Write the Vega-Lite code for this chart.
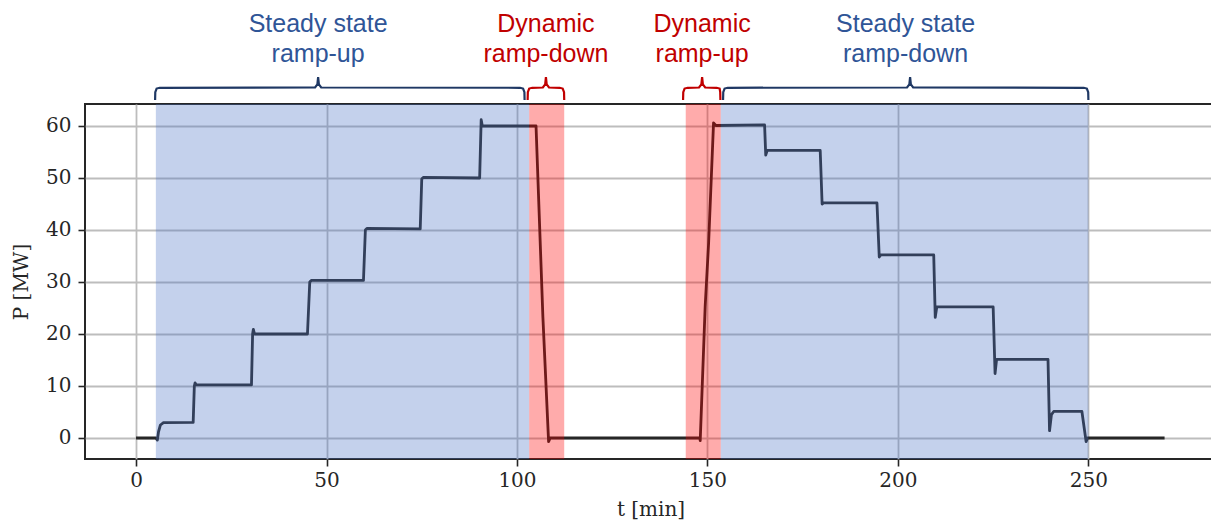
{
  "$schema": "https://vega.github.io/schema/vega-lite/v6.json",
  "autosize": "none",
  "width": 1131,
  "height": 355,
  "padding": {"left": 85, "top": 104, "right": 0, "bottom": 66},
  "background": "white",
  "config": {
    "view": {"stroke": "#262626", "strokeWidth": 2},
    "axis": {
      "labelFont": "DejaVu Serif", "labelFontSize": 20, "labelColor": "#262626",
      "titleFont": "DejaVu Serif", "titleFontSize": 20, "titleFontWeight": "normal", "titleColor": "#262626",
      "tickColor": "#262626", "tickWidth": 1.6, "tickSize": 7,
      "domain": false, "grid": true, "gridColor": "#bdbdbd", "gridWidth": 1.8
    }
  },
  "datasets": {
    "power": [
      {"t": 0, "P": 0}, {"t": 5.2, "P": 0}, {"t": 5.6, "P": -0.4}, {"t": 5.9, "P": 1.2}, {"t": 6.4, "P": 2.5}, {"t": 7.2, "P": 2.95},
      {"t": 15.0, "P": 3.0}, {"t": 15.3, "P": 10.0}, {"t": 15.5, "P": 10.6}, {"t": 15.8, "P": 10.2},
      {"t": 30.3, "P": 10.2}, {"t": 30.6, "P": 20.0}, {"t": 30.8, "P": 20.9}, {"t": 31.1, "P": 20.0},
      {"t": 45.0, "P": 20.0}, {"t": 45.3, "P": 25.0}, {"t": 45.6, "P": 30.0}, {"t": 46.0, "P": 30.3},
      {"t": 59.7, "P": 30.3}, {"t": 60.2, "P": 40.0}, {"t": 60.6, "P": 40.3},
      {"t": 74.6, "P": 40.2}, {"t": 75.0, "P": 49.8}, {"t": 75.4, "P": 50.1},
      {"t": 90.2, "P": 50.0}, {"t": 90.6, "P": 61.2}, {"t": 90.9, "P": 60.0},
      {"t": 105.0, "P": 60.0}, {"t": 106.8, "P": 23.3}, {"t": 108.3, "P": -0.7}, {"t": 108.7, "P": 0},
      {"t": 148.0, "P": 0}, {"t": 148.1, "P": -0.5}, {"t": 149.4, "P": 25.3}, {"t": 150.3, "P": 37.4}, {"t": 151.6, "P": 60.6}, {"t": 152.2, "P": 60.1},
      {"t": 165.0, "P": 60.2}, {"t": 165.3, "P": 54.4}, {"t": 165.7, "P": 55.3},
      {"t": 179.6, "P": 55.3}, {"t": 180.1, "P": 45.0}, {"t": 180.5, "P": 45.2},
      {"t": 194.5, "P": 45.2}, {"t": 195.1, "P": 34.8}, {"t": 195.5, "P": 35.2},
      {"t": 209.4, "P": 35.2}, {"t": 209.8, "P": 23.2}, {"t": 210.2, "P": 25.2},
      {"t": 225.0, "P": 25.2}, {"t": 225.5, "P": 12.4}, {"t": 225.9, "P": 15.1},
      {"t": 239.4, "P": 15.1}, {"t": 239.8, "P": 1.4}, {"t": 240.3, "P": 4.5}, {"t": 240.9, "P": 5.1},
      {"t": 248.3, "P": 5.1}, {"t": 249.4, "P": -0.7}, {"t": 249.8, "P": 0}, {"t": 270, "P": 0}
    ],
    "spans": [
      {"t0": 5.2, "t1": 103.2, "kind": "steady"},
      {"t0": 103.2, "t1": 112.4, "kind": "dynamic"},
      {"t0": 144.3, "t1": 153.5, "kind": "dynamic"},
      {"t0": 153.5, "t1": 250.0, "kind": "steady"}
    ],
    "labels": [
      {"t": 47.8, "P": 78.1, "label": "Steady state", "kind": "steady"},
      {"t": 47.8, "P": 72.3, "label": "ramp-up", "kind": "steady"},
      {"t": 107.6, "P": 78.1, "label": "Dynamic", "kind": "dynamic"},
      {"t": 107.6, "P": 72.3, "label": "ramp-down", "kind": "dynamic"},
      {"t": 148.6, "P": 78.1, "label": "Dynamic", "kind": "dynamic"},
      {"t": 148.6, "P": 72.3, "label": "ramp-up", "kind": "dynamic"},
      {"t": 202.0, "P": 78.1, "label": "Steady state", "kind": "steady"},
      {"t": 202.0, "P": 72.3, "label": "ramp-down", "kind": "steady"}
    ],
    "braces": [
      {"id": "b1", "kind": "steady", "t": 5.0, "P": 65.0}, {"id": "b1", "kind": "steady", "t": 5.05, "P": 66.5}, {"id": "b1", "kind": "steady", "t": 5.4, "P": 67.2}, {"id": "b1", "kind": "steady", "t": 6.2, "P": 67.35},
      {"id": "b1", "kind": "steady", "t": 47.0, "P": 67.4}, {"id": "b1", "kind": "steady", "t": 47.6, "P": 68.0}, {"id": "b1", "kind": "steady", "t": 47.8, "P": 69.4}, {"id": "b1", "kind": "steady", "t": 48.0, "P": 68.0}, {"id": "b1", "kind": "steady", "t": 48.6, "P": 67.4},
      {"id": "b1", "kind": "steady", "t": 100.8, "P": 67.35}, {"id": "b1", "kind": "steady", "t": 101.6, "P": 67.2}, {"id": "b1", "kind": "steady", "t": 101.95, "P": 66.5}, {"id": "b1", "kind": "steady", "t": 102.0, "P": 65.0},
      {"id": "b2", "kind": "dynamic", "t": 102.8, "P": 65.0}, {"id": "b2", "kind": "dynamic", "t": 102.85, "P": 66.5}, {"id": "b2", "kind": "dynamic", "t": 103.2, "P": 67.2}, {"id": "b2", "kind": "dynamic", "t": 104.0, "P": 67.35},
      {"id": "b2", "kind": "dynamic", "t": 106.8, "P": 67.4}, {"id": "b2", "kind": "dynamic", "t": 107.4, "P": 68.0}, {"id": "b2", "kind": "dynamic", "t": 107.6, "P": 69.4}, {"id": "b2", "kind": "dynamic", "t": 107.8, "P": 68.0}, {"id": "b2", "kind": "dynamic", "t": 108.4, "P": 67.4},
      {"id": "b2", "kind": "dynamic", "t": 111.2, "P": 67.35}, {"id": "b2", "kind": "dynamic", "t": 112.0, "P": 67.2}, {"id": "b2", "kind": "dynamic", "t": 112.35, "P": 66.5}, {"id": "b2", "kind": "dynamic", "t": 112.4, "P": 65.0},
      {"id": "b3", "kind": "dynamic", "t": 143.6, "P": 65.0}, {"id": "b3", "kind": "dynamic", "t": 143.65, "P": 66.5}, {"id": "b3", "kind": "dynamic", "t": 144.0, "P": 67.2}, {"id": "b3", "kind": "dynamic", "t": 144.8, "P": 67.35},
      {"id": "b3", "kind": "dynamic", "t": 147.8, "P": 67.4}, {"id": "b3", "kind": "dynamic", "t": 148.4, "P": 68.0}, {"id": "b3", "kind": "dynamic", "t": 148.6, "P": 69.4}, {"id": "b3", "kind": "dynamic", "t": 148.8, "P": 68.0}, {"id": "b3", "kind": "dynamic", "t": 149.4, "P": 67.4},
      {"id": "b3", "kind": "dynamic", "t": 152.4, "P": 67.35}, {"id": "b3", "kind": "dynamic", "t": 153.2, "P": 67.2}, {"id": "b3", "kind": "dynamic", "t": 153.35, "P": 66.5}, {"id": "b3", "kind": "dynamic", "t": 153.4, "P": 65.0},
      {"id": "b4", "kind": "steady", "t": 154.1, "P": 65.0}, {"id": "b4", "kind": "steady", "t": 154.15, "P": 66.5}, {"id": "b4", "kind": "steady", "t": 154.5, "P": 67.2}, {"id": "b4", "kind": "steady", "t": 155.3, "P": 67.35},
      {"id": "b4", "kind": "steady", "t": 202.4, "P": 67.4}, {"id": "b4", "kind": "steady", "t": 203.0, "P": 68.0}, {"id": "b4", "kind": "steady", "t": 203.2, "P": 69.4}, {"id": "b4", "kind": "steady", "t": 203.4, "P": 68.0}, {"id": "b4", "kind": "steady", "t": 204.0, "P": 67.4},
      {"id": "b4", "kind": "steady", "t": 248.8, "P": 67.35}, {"id": "b4", "kind": "steady", "t": 249.6, "P": 67.2}, {"id": "b4", "kind": "steady", "t": 249.95, "P": 66.5}, {"id": "b4", "kind": "steady", "t": 250.0, "P": 65.0}
    ]
  },
  "resolve": {"scale": {"color": "independent"}},
  "layer": [
    {
      "data": {"name": "power"},
      "mark": {"type": "line", "color": "#262626", "strokeWidth": 2.8, "strokeJoin": "round"},
      "encoding": {
        "x": {"field": "t", "type": "quantitative", "scale": {"domain": [-13.4, 283.5], "nice": false, "zero": false},
              "axis": {"title": "t [min]", "values": [0, 50, 100, 150, 200, 250], "labelPadding": 4, "titlePadding": 9}},
        "y": {"field": "P", "type": "quantitative", "scale": {"domain": [-4.04, 64.23], "nice": false, "zero": false},
              "axis": {"title": "P [MW]", "values": [0, 10, 20, 30, 40, 50, 60], "labelPadding": 7, "titlePadding": 14}}
      }
    },
    {
      "data": {"name": "spans"},
      "mark": {"type": "rect", "opacity": 0.33},
      "encoding": {
        "x": {"field": "t0", "type": "quantitative", "scale": {"domain": [-13.4, 283.5], "nice": false, "zero": false}},
        "x2": {"field": "t1"},
        "color": {"field": "kind", "type": "nominal", "scale": {"domain": ["steady", "dynamic"], "range": ["#4c72c4", "#ff0000"]}, "legend": null}
      }
    },
    {
      "data": {"name": "braces"},
      "mark": {"type": "line", "strokeWidth": 2.2, "interpolate": "linear", "clip": false},
      "encoding": {
        "x": {"field": "t", "type": "quantitative", "scale": {"domain": [-13.4, 283.5], "nice": false, "zero": false}},
        "y": {"field": "P", "type": "quantitative", "scale": {"domain": [-4.04, 64.23], "nice": false, "zero": false}},
        "detail": {"field": "id"},
        "color": {"field": "kind", "type": "nominal", "scale": {"domain": ["steady", "dynamic"], "range": ["#1f3864", "#c00000"]}, "legend": null}
      }
    },
    {
      "data": {"name": "labels"},
      "mark": {"type": "text", "font": "Liberation Sans", "fontSize": 25, "align": "center", "baseline": "alphabetic"},
      "encoding": {
        "x": {"field": "t", "type": "quantitative", "scale": {"domain": [-13.4, 283.5], "nice": false, "zero": false}},
        "y": {"field": "P", "type": "quantitative", "scale": {"domain": [-4.04, 64.23], "nice": false, "zero": false}},
        "text": {"field": "label"},
        "color": {"field": "kind", "type": "nominal", "scale": {"domain": ["steady", "dynamic"], "range": ["#2f5597", "#c00000"]}, "legend": null}
      }
    }
  ]
}
